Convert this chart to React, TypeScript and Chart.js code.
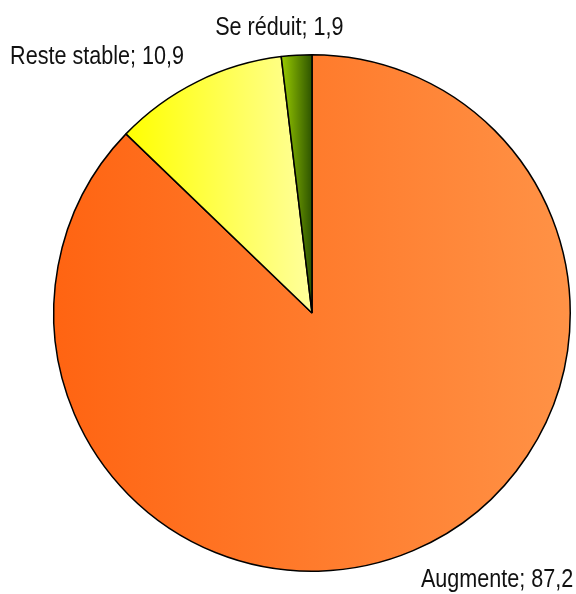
import React, { useEffect, useRef } from "react";
import { Chart, registerables } from "chart.js";

Chart.register(...registerables);

const categories = ["Augmente", "Reste stable", "Se réduit"];
const values = [87.2, 10.9, 1.9];
const valueLabels = ["87,2", "10,9", "1,9"];
const gradientStops = [
  ["#FF6412", "#FF9246"],
  ["#FFFF00", "#FFFF9C"],
  ["#9ACC00", "#2E5400"],
];

const FONT = '"Liberation Sans", Arial, sans-serif';
const NARROW = 0.83;

function sliceAngles(index: number) {
  const total = values.reduce((a, b) => a + b, 0);
  let start = 0;
  for (let i = 0; i < index; i++) start += (values[i] / total) * Math.PI * 2;
  const end = start + (values[index] / total) * Math.PI * 2;
  return [start, end];
}

function geometry(chart: any) {
  const ca = chart.chartArea;
  const cx = (ca.left + ca.right) / 2;
  const cy = (ca.top + ca.bottom) / 2;
  const r = (Math.min(ca.right - ca.left, ca.bottom - ca.top) - 1.5) / 2;
  return { cx, cy, r };
}

function makeFill(context: any) {
  const chart = context.chart;
  const idx = context.dataIndex;
  if (!chart.chartArea || idx === undefined) return gradientStops[0][0];
  const { cx, cy, r } = geometry(chart);
  const [a0, a1] = sliceAngles(idx);
  const xs = [cx, cx + Math.sin(a0) * r, cx + Math.sin(a1) * r];
  for (const crit of [Math.PI / 2, (3 * Math.PI) / 2]) {
    if (crit >= a0 && crit <= a1) xs.push(cx + Math.sin(crit) * r);
  }
  const minX = Math.min(...xs);
  const maxX = Math.max(...xs);
  const g = chart.ctx.createLinearGradient(minX, 0, maxX, 0);
  g.addColorStop(0, gradientStops[idx][0]);
  g.addColorStop(1, gradientStops[idx][1]);
  return g;
}

const labelPlugin = {
  id: "outsideLabels",
  afterDatasetsDraw(chart: any) {
    const { ctx } = chart;
    const { cx, cy, r } = geometry(chart);
    ctx.save();
    ctx.font = `26px ${FONT}`;
    ctx.fillStyle = "#111111";
    const nudges = [0, -4, -16];
    categories.forEach((cat, i) => {
      const [a0, a1] = sliceAngles(i);
      const a = (a0 + a1) / 2;
      const dx = Math.sin(a);
      const dy = -Math.cos(a);
      const d = r + 20;
      const px = cx + dx * d + nudges[i];
      const py = cy + dy * d;
      const text = `${cat}; ${valueLabels[i]}`;
      const m = ctx.measureText(text);
      const asc = m.actualBoundingBoxAscent || 18;
      ctx.textAlign = dx > 0.2 ? "left" : dx < -0.2 ? "right" : "center";
      ctx.textBaseline = "alphabetic";
      const baseY = dy > 0 ? py + asc : py;
      ctx.save();
      ctx.translate(px, baseY);
      ctx.scale(NARROW, 1);
      ctx.fillText(text, 0, 0);
      ctx.restore();
    });
    ctx.restore();
  },
};

export default function App() {
  const ref = useRef<HTMLCanvasElement>(null);
  useEffect(() => {
    if (!ref.current) return;
    const chart = new Chart(ref.current, {
      type: "pie",
      data: {
        labels: categories,
        datasets: [
          {
            data: values,
            backgroundColor: makeFill as any,
            borderColor: "#000000",
            borderWidth: 1.5,
            borderAlign: "center",
          },
        ],
      },
      options: {
        responsive: false,
        animation: false,
        layout: { padding: { left: 53, right: 5, top: 54, bottom: 22 } },
        plugins: {
          legend: { display: false },
          tooltip: { enabled: false },
        },
      },
      plugins: [labelPlugin],
    });
    return () => chart.destroy();
  }, []);
  return (
    <div style={{ position: "fixed", left: 0, top: 0, width: 576, height: 594, background: "#ffffff" }}>
      <canvas ref={ref} width={576} height={594} style={{ width: 576, height: 594 }} />
    </div>
  );
}
